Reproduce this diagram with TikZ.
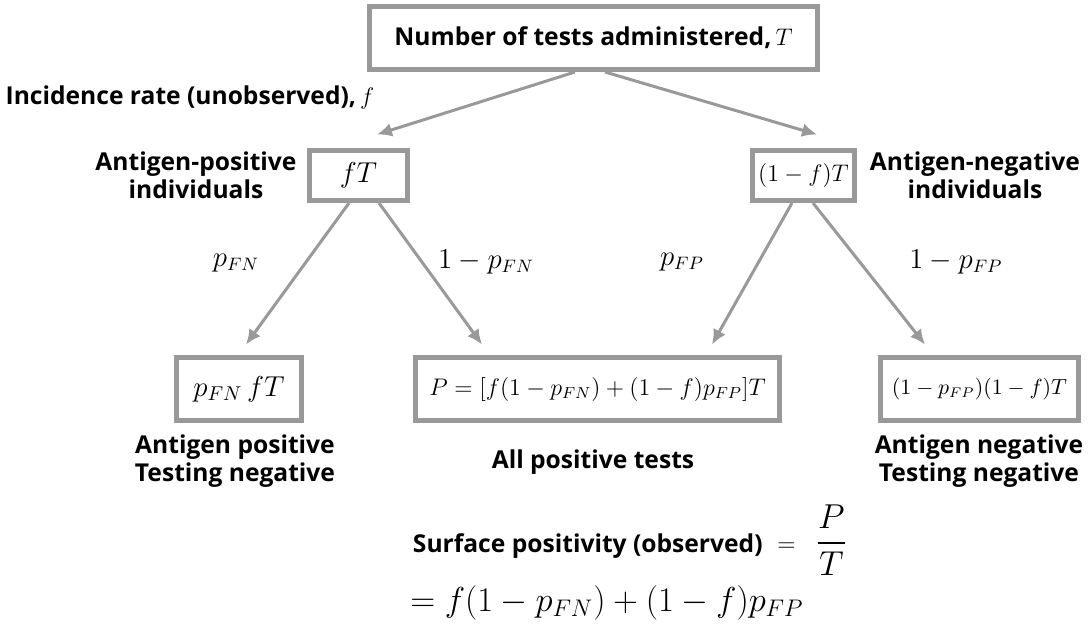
\documentclass[tikz,border=0pt]{standalone}
\usepackage{amsmath}
\usepackage[no-math]{fontspec}
\setmainfont{Open Sans}
\usetikzlibrary{arrows.meta,positioning}
\definecolor{linegray}{HTML}{999999}
\newcommand{\txtfont}{\bfseries\fontsize{12.3}{14}\selectfont}
\tikzset{
  box/.style={draw=linegray, line width=2.5pt, inner sep=0pt},
  lbl/.style={font=\txtfont, align=center, inner sep=0pt},
  mlbl/.style={font=\fontsize{13.5}{16}\selectfont, inner sep=0pt},
  arr/.style={draw=linegray, line width=1.5pt, -{Latex[length=7.5pt,width=7pt]}},
}
\begin{document}
\begin{tikzpicture}[x=0.5pt,y=-0.5pt]
    \useasboundingbox (0,0) rectangle (1089,627);
    % Top level
    \node[box, minimum width=224pt, minimum height=31.5pt, font=\txtfont] (total) at (593.5,38) {Number of tests administered,\,$T$};
    \node[lbl] (incidence) at (190,97) {Incidence rate (unobserved),\,$f$};

    % Middle level
    \node[box, minimum width=49pt, minimum height=25pt, font=\fontsize{14}{16}\selectfont] (pos) at (358.5,175.5) {$fT$};
    \node[box, minimum width=51pt, minimum height=25pt, font=\fontsize{11.5}{13}\selectfont] (neg) at (803.5,175.5) {$(1-f)T$};
    \node[lbl] (posind) at (196,175) {Antigen-positive\\individuals};
    \node[lbl] (negind) at (975,175) {Antigen-negative\\individuals};

    % Bottom level
    \node[box, minimum width=62.5pt, minimum height=31.5pt, font=\fontsize{14}{16}\selectfont] (fn) at (239,389) {$p_{FN}\,fT$};
    \node[box, minimum width=182pt, minimum height=31.5pt, font=\fontsize{12}{14}\selectfont] (allpos) at (597.5,389) {$P=[f(1-p_{FN})+(1-f)p_{FP}]T$};
    \node[box, minimum width=99pt, minimum height=31.5pt, font=\fontsize{10.5}{12}\selectfont] (tn) at (979.5,389) {$(1-p_{FP})(1-f)T$};

    \node[lbl] (fnlbl) at (235,461) {Antigen positive\\Testing negative};
    \node[lbl] (alllbl) at (593,462) {All positive tests};
    \node[lbl] (tnlbl) at (979,461) {Antigen negative\\Testing negative};

    % Branch probabilities
    \node[mlbl] (pfn) at (236,263) {$p_{FN}$};
    \node[mlbl] (qfn) at (486,262) {$1-p_{FN}$};
    \node[mlbl] (pfp) at (682,262) {$p_{FP}$};
    \node[mlbl] (qfp) at (956,262) {$1-p_{FP}$};

    % Arrows
    \draw[arr] ([xshift=-9.25pt]total.south) -- ([xshift=9.25pt,yshift=6.75pt]pos.north);
    \draw[arr] ([xshift=5.75pt]total.south) -- ([xshift=6.75pt,yshift=6.75pt]neg.north);
    \draw[arr] ([xshift=-4.75pt]pos.south) -- ([xshift=3.5pt,yshift=5.25pt]fn.north);
    \draw[arr] ([xshift=10.25pt]pos.south) -- ([xshift=-57.75pt,yshift=5.25pt]allpos.north);
    \draw[arr] ([xshift=-5.75pt]neg.south) -- ([xshift=57.25pt,yshift=5.25pt]allpos.north);
    \draw[arr] ([xshift=4.75pt]neg.south) -- ([xshift=-27.25pt,yshift=5.25pt]tn.north);

    % Surface positivity
    \node[inner sep=0pt, anchor=east, font=\txtfont] (surf) at (763,546) {Surface positivity (observed)};
    \node[inner sep=0pt, anchor=west] (ratio) at (777,540) {{\fontsize{13}{16}\selectfont$=$}\hspace{10pt}{\fontsize{17}{20}\selectfont$\dfrac{P}{T}$}};
    \node[inner sep=0pt, font=\fontsize{17.8}{20}\selectfont] (expand) at (607,603) {$=f(1-p_{FN})+(1-f)p_{FP}$};
\end{tikzpicture}
\end{document}
